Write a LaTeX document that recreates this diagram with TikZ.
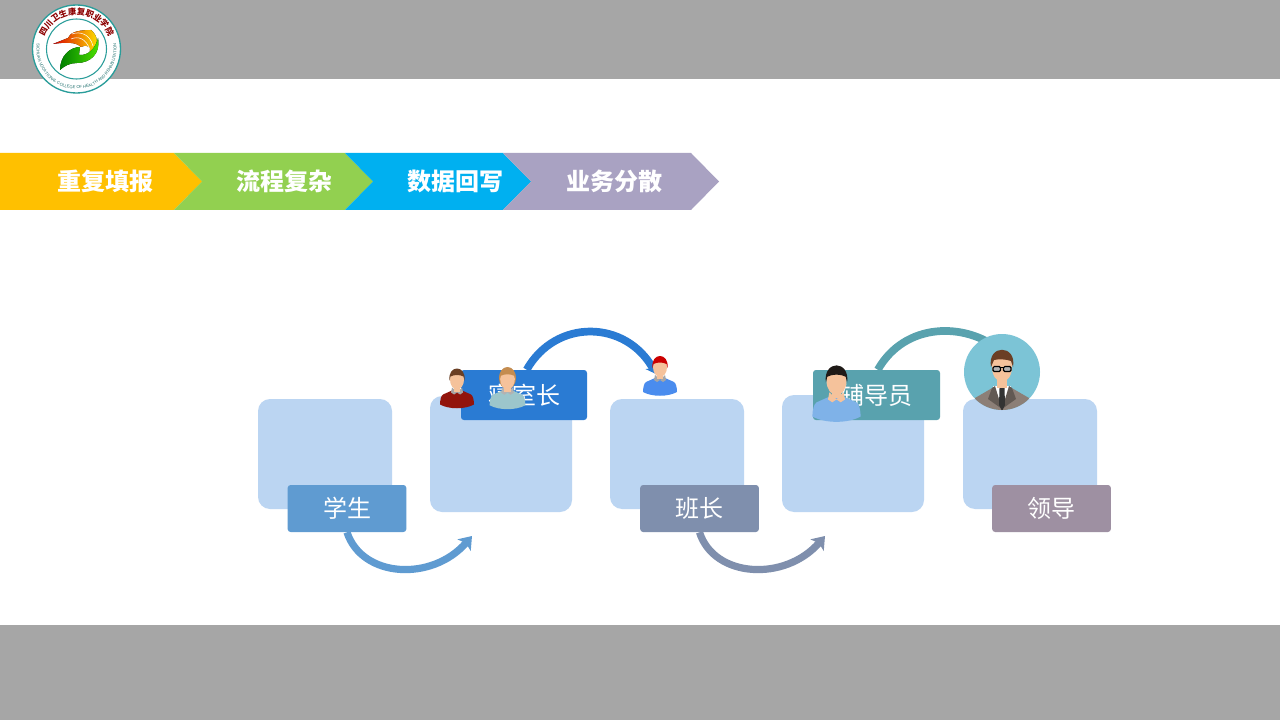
\documentclass[tikz,border=0pt]{standalone}
\usepackage{fontspec}
\usepackage{tikz}
\usetikzlibrary{arrows.meta, decorations.text}
\newfontfamily\cjk{Noto Sans CJK SC}
\setsansfont{Liberation Sans}
\definecolor{bandgray}{RGB}{166, 166, 166}
\definecolor{stepyellow}{RGB}{255, 192, 0}
\definecolor{stepgreen}{RGB}{146, 208, 80}
\definecolor{stepblue}{RGB}{0, 176, 240}
\definecolor{steppurple}{RGB}{169, 162, 194}
\definecolor{panelblue}{RGB}{187, 213, 242}
\definecolor{xsblue}{RGB}{95, 155, 209}
\definecolor{qsblue}{RGB}{42, 123, 211}
\definecolor{bzslate}{RGB}{127, 143, 173}
\definecolor{fdteal}{RGB}{89, 162, 174}
\definecolor{ldmauve}{RGB}{158, 144, 162}
\definecolor{circleblue}{RGB}{124, 196, 214}
\definecolor{logoteal}{RGB}{42, 157, 154}
\definecolor{skin}{RGB}{245, 194, 155}
\definecolor{shirtred}{RGB}{146, 20, 12}
\definecolor{shirtmint}{RGB}{156, 198, 203}
\definecolor{shirtblue}{RGB}{74, 140, 238}
\definecolor{shirtsky}{RGB}{127, 178, 232}
\definecolor{suitgray}{RGB}{140, 127, 119}
\definecolor{hairbrown}{RGB}{107, 63, 36}
\definecolor{hairtan}{RGB}{196, 140, 80}
\definecolor{hairblack}{RGB}{31, 26, 23}

\tikzset{
    pics/person/.style n args={4}{code={
        \fill[#3] (-17, 25) .. controls (-17, 21) and (-16, 16) .. (-14, 15)
            -- (-5, 11) -- (5, 11) -- (14, 15)
            .. controls (16, 16) and (17, 21) .. (17, 25)
            .. controls (8, 30) and (-8, 30) .. (-17, 25) -- cycle;
        \fill[#4] (-5, 8) -- (0, 13) -- (5, 8) -- (6, 13) -- (3, 15) -- (0, 13) -- (-3, 15) -- (-6, 13) -- cycle;
        \fill[skin] (-3, 4) rectangle (3, 12);
        \fill[#2] (0, 0) ellipse (7 and 10);
        \fill[#1] (-7.5, 1) .. controls (-9.5, -15) and (9.5, -15) .. (7.5, 1)
            -- (6.5, -3) .. controls (3, -5) and (-3, -5) .. (-6.5, -3) -- cycle;
    }}
}

\begin{document}
\begin{tikzpicture}[
                x=0.75pt, y=-0.75pt,
                panel/.style={fill=panelblue, rounded corners=9pt, inner sep=0pt},
                tag/.style={rounded corners=2.2pt, inner sep=0pt, text=white,
                            font=\cjk\fontsize{18pt}{20pt}\selectfont},
                steptext/.style={text=white, inner sep=0pt,
                            font=\cjk\bfseries\fontsize{18pt}{20pt}\selectfont},
                flow/.style={line width=5.4pt},
                flowtop/.style={line width=5.8pt}
            ]
            \useasboundingbox (0, 0) rectangle (1280, 720);
            \fill[white] (0, 0) rectangle (1280, 720);
            \fill[bandgray] (0, 0) rectangle (1280, 79);
            \fill[bandgray] (0, 625) rectangle (1280, 720);

            \fill[stepyellow] (0, 153) -- (174, 153) -- (202, 181.5) -- (174, 210) -- (0, 210) -- cycle;
            \fill[stepgreen] (174, 153) -- (345, 153) -- (373, 181.5) -- (345, 210) -- (174, 210) -- (202, 181.5) -- cycle;
            \fill[stepblue] (345, 153) -- (503, 153) -- (531, 181.5) -- (503, 210) -- (345, 210) -- (373, 181.5) -- cycle;
            \fill[steppurple] (503, 153) -- (691, 153) -- (719, 181.5) -- (691, 210) -- (503, 210) -- (531, 181.5) -- cycle;
            \node[steptext] (cf) at (105, 181) {重复填报};
            \node[steptext] (lc) at (284, 181) {流程复杂};
            \node[steptext] (sj) at (455, 181) {数据回写};
            \node[steptext] (yw) at (614, 181) {业务分散};

            \node[panel, minimum width=100.5pt, minimum height=82.5pt] (p1) at (325, 454) {};
            \node[panel, minimum width=106.5pt, minimum height=87pt] (p2) at (501, 454) {};
            \node[panel, minimum width=100.5pt, minimum height=82.5pt] (p3) at (677, 454) {};
            \node[panel, minimum width=106.5pt, minimum height=87.75pt] (p4) at (853, 453.5) {};
            \node[panel, minimum width=100.5pt, minimum height=82.5pt] (p5) at (1030, 454) {};

            \node[tag, fill=xsblue, minimum width=89pt, minimum height=35.25pt] (xs) at (347, 508.5) {学生};
            \node[tag, fill=qsblue, minimum width=94.5pt, minimum height=37.5pt] (qs) at (524, 395) {寝室长};
            \node[tag, fill=bzslate, minimum width=89pt, minimum height=35.25pt] (bz) at (699.5, 508.5) {班长};
            \node[tag, fill=fdteal, minimum width=95.25pt, minimum height=37.5pt] (fd) at (876.5, 395) {辅导员};
            \node[tag, fill=ldmauve, minimum width=89pt, minimum height=35.25pt] (ld) at (1051.5, 508.5) {领导};

            \coordinate (xsend) at (472, 536);
            \coordinate (bzend) at (825, 536);
            \coordinate (qsend) at (656, 374);
            \coordinate (fdend) at (1000, 350);

            \draw[flow, xsblue, -{Stealth[length=9pt, width=13pt, inset=2pt]}]
                (xs.south) .. controls (362, 578) and (432, 582) .. (xsend);
            \draw[flow, bzslate, -{Stealth[length=9pt, width=13pt, inset=2pt]}]
                (bz.south) .. controls (714, 578) and (785, 582) .. (bzend);
            \draw[flowtop, qsblue, -{Stealth[length=7pt, width=10pt, inset=2pt]}]
                ([xshift=2pt]qs.north) .. controls (556, 318) and (626, 320) .. (qsend);
            \draw[flowtop, fdteal]
                ([xshift=1pt]fd.north) .. controls (905, 322) and (965, 322) .. (fdend);

            \pic at (457, 379.5) {person={hairbrown}{skin}{shirtred}{gray!70}};
            \fill[hairtan] (507.5, 378) ellipse (8.5 and 11);
            \pic[scale=1.05] at (507.5, 379) {person={hairtan}{skin}{shirtmint}{gray!60}};
            \pic at (660, 367) {person={red!80!black}{skin}{shirtblue}{gray!70}};
            \pic[scale=1.42] at (836.5, 381) {person={hairblack}{skin}{shirtsky}{skin}};

            \node[circle, fill=circleblue, minimum size=57pt, inner sep=0pt] (ldcircle) at (1002, 372) {};
            \begin{scope}
                \clip (1002, 372) circle (38);
                \fill[suitgray] (975, 411) -- (975, 398) -- (994, 387) -- (1010, 387) -- (1029, 398) -- (1029, 411) -- cycle;
                \fill[white] (993, 386) -- (1011, 386) -- (1002, 408) -- cycle;
                \fill[suitgray!70!black] (992, 388) -- (995, 386) -- (1002, 409) -- (988, 399) -- cycle;
                \fill[suitgray!70!black] (1012, 388) -- (1009, 386) -- (1002, 409) -- (1016, 399) -- cycle;
                \fill[black!80] (999.5, 388) -- (1004.5, 388) -- (1005, 405) -- (1002, 411) -- (999, 405) -- cycle;
                \fill[skin] (997, 376) rectangle (1007, 388);
                \fill[skin] (1002, 367) ellipse (10 and 15);
                \fill[hairbrown] (991, 367) .. controls (987, 344) and (1017, 344) .. (1013, 367)
                    -- (1011, 361) .. controls (1006, 359) and (998, 359) .. (994, 360) -- cycle;
                \draw[black, line width=0.9pt, rounded corners=1pt, fill=black!30]
                    (993, 366.5) rectangle (1000.5, 371.5) (1003.5, 366.5) rectangle (1011, 371.5);
                \draw[black, line width=0.9pt] (1000.5, 367.5) -- (1003.5, 367.5);
            \end{scope}

            \node[circle, draw=logoteal, fill=white, line width=1pt, minimum size=66pt, inner sep=0pt] (logo) at (76.5, 49) {};
            \node[circle, draw=logoteal, line width=0.8pt, minimum size=45pt, inner sep=0pt] (logoin) at (76.5, 49) {};
            \fill[left color=red!85!black, right color=yellow!85!orange]
                (53, 44) -- (68, 38) .. controls (70, 33) and (76, 30) .. (91, 30)
                .. controls (98, 36) and (100, 44) .. (89, 56)
                .. controls (92, 46) and (88, 44) .. (81, 47)
                .. controls (76, 42) and (66, 42) .. (53, 44) -- cycle;
            \draw[white, line width=0.4pt] (72, 34) .. controls (80, 31) and (90, 34) .. (93, 46);
            \draw[white, line width=0.4pt] (71, 39) .. controls (78, 36) and (86, 38) .. (90, 50);
            \fill[left color=green!50!black, right color=green!65!yellow!90!black]
                (60, 70) .. controls (60, 56) and (70, 47) .. (80, 47)
                -- (79, 55) .. controls (88, 56) and (96, 48) .. (98, 38)
                .. controls (101, 54) and (90, 63) .. (77, 63)
                .. controls (70, 63) and (64, 66) .. (60, 70) -- cycle;
            \path[decorate, decoration={text along path, text align=center,
                    text={|\cjk\bfseries\fontsize{6.2pt}{7pt}\selectfont\color{red!55!black}|四川卫生康复职业学院}}]
                (42, 49) arc[start angle=180, end angle=0, x radius=34.5, y radius=-34.5];
            \path[decorate, decoration={text along path, text align=center,
                    text={|\sffamily\fontsize{3.1pt}{3.5pt}\selectfont\color{logoteal!70!black}|SICHUAN VOCATIONAL COLLEGE OF HEALTH AND REHABILITATION}}]
                (36.9, 43.4) arc[start angle=172, end angle=368, x radius=40, y radius=-40];

            \end{tikzpicture}
\end{document}
